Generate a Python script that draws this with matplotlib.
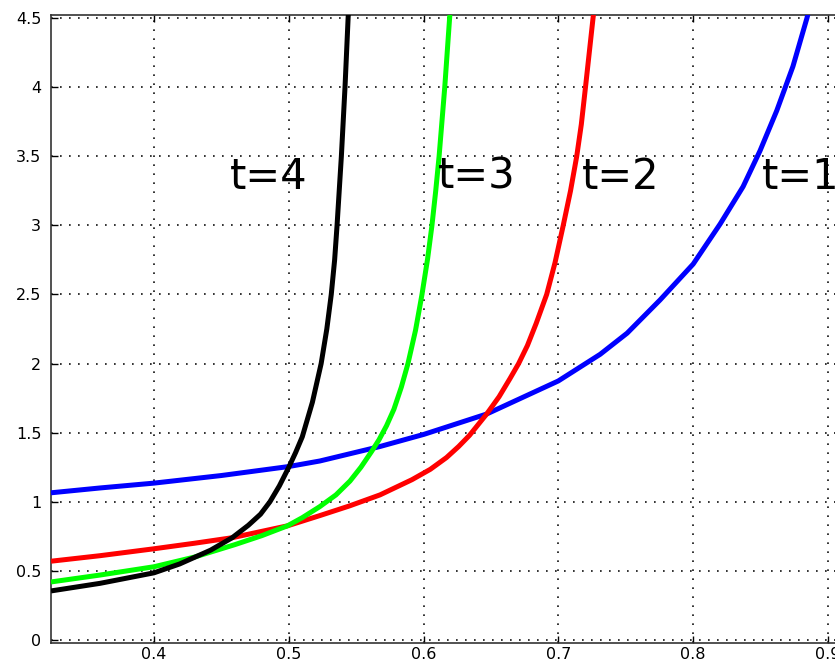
import matplotlib
matplotlib.use("Agg")
import matplotlib.pyplot as plt
from matplotlib.ticker import FuncFormatter

# t=1 (blue)
x_t1 = [0.3236, 0.36, 0.40, 0.45, 0.50, 0.523, 0.5677, 0.6003, 0.6468, 0.6999, 0.731,
        0.751, 0.7754, 0.800, 0.820, 0.837, 0.8496, 0.862, 0.874, 0.8844, 0.887]
y_t1 = [1.065, 1.10, 1.135, 1.19, 1.255, 1.295, 1.40, 1.488, 1.635, 1.874, 2.067,
        2.22, 2.46, 2.72, 3.01, 3.28, 3.54, 3.83, 4.15, 4.50, 4.60]
# t=2 (red)
x_t2 = [0.3236, 0.36, 0.40, 0.43, 0.458, 0.499, 0.523, 0.545, 0.5677, 0.5914, 0.605,
        0.617, 0.626, 0.634, 0.6468, 0.656, 0.664, 0.6705, 0.677, 0.6835, 0.6913,
        0.6975, 0.7036, 0.709, 0.7136, 0.717, 0.7201, 0.7257, 0.727]
y_t2 = [0.57, 0.61, 0.66, 0.70, 0.74, 0.826, 0.90, 0.97, 1.05, 1.16, 1.235,
        1.32, 1.40, 1.48, 1.635, 1.76, 1.89, 2.00, 2.13, 2.29, 2.50,
        2.73, 3.00, 3.25, 3.50, 3.73, 4.00, 4.50, 4.60]
# t=3 (green)
x_t3 = [0.3236, 0.36, 0.40, 0.43, 0.46, 0.48, 0.499, 0.51, 0.523, 0.535, 0.5454,
        0.5535, 0.5615, 0.567, 0.5725, 0.578, 0.5835, 0.5884, 0.594, 0.5988, 0.603,
        0.6062, 0.609, 0.6115, 0.6157, 0.6193, 0.620]
y_t3 = [0.42, 0.47, 0.53, 0.60, 0.69, 0.755, 0.826, 0.885, 0.965, 1.05, 1.15,
        1.25, 1.365, 1.45, 1.55, 1.67, 1.83, 2.00, 2.24, 2.50, 2.76,
        3.00, 3.25, 3.50, 4.00, 4.50, 4.60]
# t=4 (black)
x_t4 = [0.3236, 0.36, 0.40, 0.419, 0.442, 0.458, 0.470, 0.479, 0.486, 0.493, 0.500,
        0.505, 0.510, 0.5175, 0.524, 0.5282, 0.5315, 0.534, 0.5358, 0.539, 0.5417,
        0.544, 0.5446]
y_t4 = [0.355, 0.41, 0.486, 0.55, 0.65, 0.74, 0.83, 0.91, 1.00, 1.115, 1.25,
        1.355, 1.47, 1.72, 2.00, 2.25, 2.50, 2.75, 3.00, 3.50, 4.00,
        4.50, 4.60]

labels = ["t=1", "t=2", "t=3", "t=4"]
label_x = [0.851, 0.7175, 0.6107, 0.4564]
label_y = [3.35, 3.35, 3.35, 3.35]
colors = ["#0000ff", "#ff0000", "#00ff00", "#000000"]

xticks = [0.4, 0.5, 0.6, 0.7, 0.8, 0.9]
yticks = [0, 0.5, 1, 1.5, 2, 2.5, 3, 3.5, 4, 4.5]

W, H = 835, 664
fig = plt.figure(figsize=(W / 100, H / 100), dpi=100)
left_px, right_px, top_px, bot_px = 51, 900, 15, 643
ax = fig.add_axes([left_px / W, 1 - bot_px / H, (right_px - left_px) / W, (bot_px - top_px) / H])

ppu_x = 1348.0
x0 = 0.4 - (154 - left_px) / ppu_x
x1 = 0.4 + (right_px - 154) / ppu_x
ax.set_xlim(x0, x1)
ppu_y = 138.2
ax.set_ylim(-(bot_px - 640) / ppu_y, 4.5 + (18 - top_px) / ppu_y)

for xs, ys, c in [(x_t1, y_t1, colors[0]), (x_t2, y_t2, colors[1]),
                  (x_t3, y_t3, colors[2]), (x_t4, y_t4, colors[3])]:
    ax.plot(xs, ys, color=c, lw=3.6, solid_capstyle="butt",
            solid_joinstyle="round", zorder=3)

for lab, lx, ly in zip(labels, label_x, label_y):
    ax.text(lx, ly, lab, fontsize=30, ha="left", va="center", color="black",
            family="DejaVu Sans", zorder=4)

ax.set_xticks(xticks)
ax.set_yticks(yticks)
fmt = FuncFormatter(lambda v, p: ("%g" % v))
ax.xaxis.set_major_formatter(fmt)
ax.yaxis.set_major_formatter(fmt)
ax.tick_params(direction="in", top=True, right=True, length=5, width=1,
               labelsize=11.5, colors="black")
ax.tick_params(axis="x", pad=3)
ax.tick_params(axis="y", pad=7)
ax.grid(True, color="#101010", linestyle=(0, (1, 4.4)), linewidth=1.2, zorder=1)
for s in ax.spines.values():
    s.set_color("#333333")
    s.set_linewidth(1.2)

fig.savefig("out.png", dpi=100)
